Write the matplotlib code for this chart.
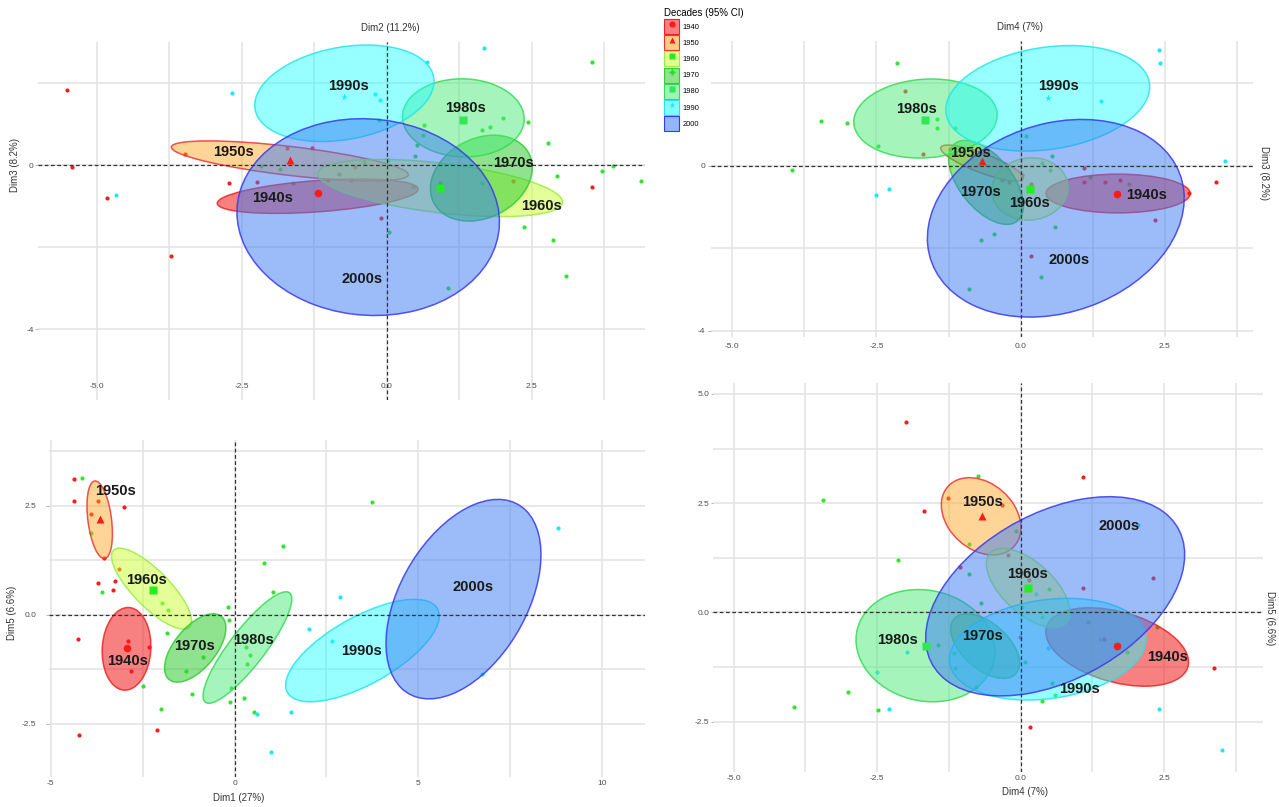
import matplotlib
matplotlib.use("Agg")
import matplotlib.pyplot as plt
from matplotlib.colors import to_rgba
from matplotlib.patches import Ellipse, Patch
from matplotlib.lines import Line2D
from matplotlib.legend_handler import HandlerTuple

plt.rcParams['font.family'] = ['Liberation Sans', 'DejaVu Sans']

W, H = 1279, 807

# decades and their colours
DECADES = ['1940', '1950', '1960', '1970', '1980', '1990', '2000']
DECADE_LABELS = ['1940s', '1950s', '1960s', '1970s', '1980s', '1990s', '2000s']
FILL = ['#F21A1A', '#FFA31A', '#CCFF33', '#33CC33', '#4DEB7A', '#1AFFFF', '#3B7BF5']
FILL_ALPHA = [0.55, 0.45, 0.5, 0.55, 0.5, 0.45, 0.5]
EDGE = ['#EE2222', '#EE3333', '#99EE44', '#33CC33', '#33DD55', '#22E6EE', '#3838EE']
MARKERS = ['o', '^', 's', 'P', 's', '*', None]
MARK_COLORS = ['#FF1A1A', '#FF1A1A', '#22EE22', '#22DD22', '#33E655', '#1AE6FF', '#3355FF']
RED, GREEN, CYAN = '#FF1A1A', '#2EE62E', '#1AE6FF'

# ---- Dim2 x Dim3 ----
p1_red = [(-5.51, 1.83), (-5.43, -0.04), (-4.82, -0.80), (-3.71, -2.22), (-3.47, 0.28),
          (-2.72, -0.43), (-2.24, -0.41), (-1.72, 0.42), (-1.29, 0.41), (-0.55, -0.04),
          (-0.83, -0.22), (-1.01, -0.37), (-0.62, -0.37), (-0.10, -1.30), (0.92, -0.43),
          (2.18, -0.38), (3.53, -0.54)]
p1_green = [(-2.16, -0.02), (-1.84, -0.10), (-1.61, -0.45), (-0.40, 0.08), (0.02, 0.12),
            (-0.14, 1.10), (0.64, 0.98), (0.63, 0.73), (0.52, 0.49), (0.49, 0.22),
            (1.64, 0.85), (1.78, 0.92), (2.01, 1.14), (2.44, 1.06), (2.78, 0.54),
            (2.93, -0.27), (3.71, -0.14), (3.89, -0.02), (4.38, -0.40), (3.53, 2.52),
            (1.64, -0.45), (0.46, -0.54), (2.37, -1.50), (2.87, -1.83), (3.09, -2.71),
            (1.06, -3.01), (0.03, -1.63)]
p1_cyan = [(-4.67, -0.72), (-2.67, 1.75), (1.67, 2.85), (0.69, 2.52), (-0.20, 1.74), (-0.12, 1.59)]
# centre x, centre y, semi-major, semi-minor, angle
p1_ellipses = [(-1.19, -0.76, 1.74, 0.38, 6), (-1.67, 0.10, 2.07, 0.35, -9.6),
               (0.92, -0.56, 2.14, 0.60, -10), (1.63, -0.32, 1.10, 0.81, 63),
               (1.32, 1.15, 1.05, 0.95, -8), (-0.73, 1.75, 1.60, 1.10, 21),
               (-0.32, -1.27, 2.42, 2.24, -70)]
p1_labels = [(-1.96, -0.80), (-2.64, 0.32), (2.67, -1.00), (2.18, 0.05),
             (1.35, 1.38), (-0.66, 1.93), (-0.43, -2.79)]
p1_centroids = [(0, -1.18, -0.69), (1, -1.67, 0.12), (2, 0.92, -0.57), (4, 1.32, 1.10), (5, -0.74, 1.65)]

# ---- Dim4 x Dim3 ----
p2_red = [(-2.00, 1.82), (-1.69, 0.30), (-1.23, 0.42), (0.18, -0.43), (0.02, -0.21),
          (-0.20, -0.39), (-0.32, -0.35), (0.18, -2.19), (1.10, -0.05), (1.10, -0.40),
          (1.47, -0.39), (1.72, -0.35), (2.92, -0.65), (3.38, -0.40), (2.33, -1.30)]
p2_green = [(-2.14, 2.50), (-3.46, 1.09), (-3.02, 1.05), (-1.45, 1.13), (-1.45, 0.91),
            (-1.14, 0.93), (-2.48, 0.48), (-3.96, -0.10), (-0.69, -1.80), (-0.89, -2.99),
            (0.10, 0.72), (0.55, 0.23), (0.37, 0.06), (0.51, -0.10), (1.20, -0.27),
            (1.88, -0.45), (-0.46, -1.64), (0.59, -1.49), (0.35, -2.69)]
p2_cyan = [(-2.29, -0.55), (-2.51, -0.71), (2.40, 2.82), (2.41, 2.50), (1.39, 1.57), (3.54, 0.12)]
p2_ellipses = [(1.69, -0.67, 1.25, 0.47, 0), (-0.67, 0.07, 0.81, 0.22, -29),
               (0.16, -0.56, 0.76, 0.66, 80), (-0.60, -0.40, 1.10, 0.50, -65),
               (-1.65, 1.15, 1.25, 0.95, 9), (0.47, 1.64, 1.81, 1.22, 16.8),
               (0.61, -1.27, 2.55, 2.05, 55)]
p2_labels = [(2.18, -0.71), (-0.87, 0.31), (0.16, -0.91), (-0.69, -0.63),
             (-1.80, 1.39), (0.66, 1.93), (0.84, -2.28)]
p2_centroids = [(0, 1.67, -0.69), (1, -0.67, 0.12), (2, 0.16, -0.57), (4, -1.66, 1.11), (5, 0.48, 1.65)]

# ---- Dim1 x Dim5 ----
p3_red = [(-4.36, 3.11), (-4.38, 2.62), (-3.73, 2.60), (-3.00, 2.47), (-3.90, 2.32),
          (-3.55, 1.30), (-3.14, 1.05), (-3.72, 0.74), (-3.25, 0.78), (-3.31, 0.57),
          (-4.27, -0.55), (-2.89, -0.59), (-2.33, -0.73), (-2.83, -1.30), (-2.12, -2.64),
          (-4.23, -2.75)]
p3_green = [(-4.14, 3.13), (-3.90, 1.87), (-3.61, 0.53), (-1.98, 0.28), (-1.81, 0.11),
            (-1.83, -0.42), (-2.50, -1.63), (-2.00, -2.16), (-1.17, -1.81), (-1.31, -1.28),
            (-0.87, -0.96), (-0.17, 0.19), (-0.15, -0.11), (-0.09, -1.68), (-0.13, -2.01),
            (0.27, -1.90), (0.54, -2.22), (0.33, -1.12), (0.43, -0.92), (0.30, -0.73),
            (0.80, 1.20), (1.32, 1.57), (1.05, 0.53), (3.73, 2.58)]
p3_cyan = [(0.99, -3.15), (0.62, -2.27), (1.54, -2.22), (2.02, -0.33), (2.65, -0.61),
           (2.87, 0.41), (8.81, 2.00), (6.73, -1.35)]
p3_ellipses = [(-2.94, -0.78, 0.95, 0.66, 85), (-3.67, 2.18, 0.90, 0.32, 99),
               (-2.26, 0.60, 1.36, 0.45, 140.7), (-1.07, -0.76, 1.02, 0.52, 42),
               (0.35, -0.75, 1.70, 0.45, 46.9), (3.48, -0.82, 2.26, 0.80, 24),
               (6.23, 0.36, 2.65, 1.63, 50.2)]
p3_labels = [(-2.92, -1.07), (-3.25, 2.84), (-2.39, 0.80), (-1.09, -0.71),
             (0.52, -0.57), (3.46, -0.84), (6.49, 0.63)]
p3_centroids = [(0, -2.94, -0.76), (1, -3.67, 2.20), (2, -2.23, 0.57)]

# ---- Dim4 x Dim5 ----
p4_red = [(-1.99, 4.35), (-1.26, 2.61), (-1.68, 2.32), (-1.05, 1.03), (1.09, 3.10),
          (-0.33, 2.46), (-0.22, 1.31), (0.15, 0.74), (1.08, 0.57), (2.31, 0.78),
          (1.45, -0.60), (3.36, -1.28), (0.16, -2.63), (-0.02, -0.56)]
p4_green = [(-3.45, 2.57), (-0.74, 3.12), (-2.13, 1.20), (-0.90, 1.56), (-0.90, 0.88),
            (-0.70, 0.21), (-1.44, -0.75), (-1.17, -0.92), (-1.14, -1.28), (-0.78, -1.70),
            (-3.00, -1.82), (-3.95, -2.16), (-2.48, -2.24), (-0.08, 1.87), (0.50, 0.53),
            (0.37, -0.11), (0.02, 0.13), (1.18, -0.21), (1.85, -0.90), (2.38, -0.34),
            (0.07, -1.13), (0.54, -1.62), (0.59, -1.89), (0.37, -2.03)]
p4_cyan = [(-1.98, -0.90), (-2.51, -1.36), (-2.29, -2.20), (0.27, 0.43), (1.38, -0.60),
           (0.48, -0.82), (2.40, -2.20), (3.50, -3.15), (2.05, 2.00)]
p4_ellipses = [(1.68, -0.79, 1.32, 0.78, -24.6), (-0.69, 2.20, 0.93, 0.63, 115),
               (0.13, 0.56, 1.05, 0.50, 125), (-0.62, -0.77, 0.84, 0.45, -56),
               (-1.66, -0.76, 1.32, 1.17, -60), (0.47, -0.84, 1.74, 1.12, 13.6),
               (0.60, 0.37, 2.70, 1.73, 45.7)]
p4_labels = [(2.55, -1.02), (-0.67, 2.53), (0.12, 0.88), (-0.66, -0.54),
             (-2.15, -0.63), (1.03, -1.76), (1.72, 1.97)]
p4_centroids = [(0, 1.67, -0.77), (1, -0.67, 2.20), (2, 0.12, 0.57), (4, -1.65, -0.76)]

# axis ticks
dim_major = [-5.0, -2.5, 0.0, 2.5]
dim_major_labels = ['-5.0', '-2.5', '0.0', '2.5']
dim_minor = [-3.75, -1.25, 1.25, 3.75]
dim3_major = [-4, 0]
dim3_major_labels = ['-4', '0']
dim3_minor = [-2, 2]
dim1_major = [-5, 0, 5, 10]
dim1_major_labels = ['-5', '0', '5', '10']
dim1_minor = [-2.5, 2.5, 7.5]
dim5_major = [-2.5, 0.0, 2.5, 5.0]
dim5_major_labels = ['-2.5', '0.0', '2.5', '5.0']
dim5_minor = [-1.25, 1.25, 3.75]


def px_axes(fig, left, top, right, bottom):
    """Add axes from a pixel box (origin top-left)."""
    return fig.add_axes([left / W, 1 - bottom / H, (right - left) / W, (bottom - top) / H])


def to_axes_frac(box, px, py):
    left, top, right, bottom = box
    return (px - left) / (right - left), (bottom - py) / (bottom - top)


def style_axes(ax, xlim, ylim, xt, xtl, xm, yt, ytl, ym):
    ax.set_xlim(*xlim)
    ax.set_ylim(*ylim)
    ax.set_xticks(xt, labels=xtl)
    ax.set_xticks(xm, minor=True)
    ax.set_yticks(yt, labels=ytl)
    ax.set_yticks(ym, minor=True)
    ax.set_axisbelow(True)
    ax.grid(which='both', color='#E4E4E4', lw=1.2)
    for s in ax.spines.values():
        s.set_visible(False)
    ax.tick_params(which='minor', length=0)
    ax.tick_params(axis='both', which='major', labelsize=6, labelcolor='#4D4D4D',
                   color='#AAAAAA', width=0.6)
    ax.tick_params(axis='x', which='major', length=0)


def draw_panel(ax, red, green, cyan, ellipses, labels, centroids):
    for pts, col in ((red, RED), (green, GREEN), (cyan, CYAN)):
        xs, ys = zip(*pts)
        ax.plot(xs, ys, 'o', ms=3, color=col, mec='none', zorder=2)
    for i, (cx, cy, a, b, ang) in enumerate(ellipses):
        ax.add_patch(Ellipse((cx, cy), 2 * a, 2 * b, angle=ang,
                             fc=to_rgba(FILL[i], FILL_ALPHA[i]),
                             ec=to_rgba(EDGE[i], 0.85), lw=1.1, zorder=2.5))
    ax.axhline(0, color='#333333', lw=0.9, ls=(0, (3, 2)), zorder=3)
    ax.axvline(0, color='#333333', lw=0.9, ls=(0, (3, 2)), zorder=3)
    for i, x, y in centroids:
        ax.plot(x, y, MARKERS[i], ms=5.5, color=MARK_COLORS[i], mec='none', zorder=3.5)
    for name, (x, y) in zip(DECADE_LABELS, labels):
        ax.text(x, y, name, ha='center', va='center', fontsize=10.5,
                fontweight='bold', color='#1A1A1A', zorder=4)


def set_titles(ax, box, xlabel, xpos, ylabel, ypos, yrot):
    ax.set_xlabel(xlabel, fontsize=7, color='#333333', va='center')
    ax.xaxis.set_label_coords(*to_axes_frac(box, *xpos))
    ax.set_ylabel(ylabel, fontsize=7, color='#333333', rotation=yrot, va='center', ha='center')
    ax.yaxis.set_label_coords(*to_axes_frac(box, *ypos))


fig = plt.figure(figsize=(W / 100, H / 100), dpi=100)

box1 = (38, 42, 645, 400)
ax1 = px_axes(fig, *box1)
style_axes(ax1, (-6.01, 4.45), (-5.73, 3.0), dim_major, dim_major_labels, dim_minor,
           dim3_major, dim3_major_labels, dim3_minor)
ax1.tick_params(axis='x', which='major', pad=-12)
ax1.tick_params(axis='y', which='major', length=2, pad=1)
draw_panel(ax1, p1_red, p1_green, p1_cyan, p1_ellipses, p1_labels, p1_centroids)
set_titles(ax1, box1, 'Dim2 (11.2%)', (390, 28), 'Dim3 (8.2%)', (15, 165), 90)

box2 = (711, 41, 1253, 337)
ax2 = px_axes(fig, *box2)
style_axes(ax2, (-5.37, 4.03), (-4.15, 3.03), dim_major, dim_major_labels, dim_minor,
           dim3_major, dim3_major_labels, dim3_minor)
ax2.tick_params(axis='x', which='major', pad=4)
ax2.tick_params(axis='y', which='major', length=2, pad=2)
draw_panel(ax2, p2_red, p2_green, p2_cyan, p2_ellipses, p2_labels, p2_centroids)
set_titles(ax2, box2, 'Dim4 (7%)', (1020, 27), 'Dim3 (8.2%)', (1264, 173), 270)

box3 = (49, 440, 645, 777)
ax3 = px_axes(fig, *box3)
style_axes(ax3, (-5.05, 11.17), (-3.72, 4.01), dim1_major, dim1_major_labels, dim1_minor,
           dim5_major[:3], dim5_major_labels[:3], dim5_minor)
ax3.tick_params(axis='x', which='major', pad=2)
ax3.tick_params(axis='y', which='major', length=2, pad=7)
draw_panel(ax3, p3_red, p3_green, p3_cyan, p3_ellipses, p3_labels, p3_centroids)
set_titles(ax3, box3, 'Dim1 (27%)', (239, 798), 'Dim5 (6.6%)', (12, 613), 90)

box4 = (713, 383, 1263, 772)
ax4 = px_axes(fig, *box4)
style_axes(ax4, (-5.36, 4.22), (-3.65, 5.25), dim_major, dim_major_labels, dim_minor,
           dim5_major, dim5_major_labels, dim5_minor)
ax4.tick_params(axis='x', which='major', pad=2.5)
ax4.tick_params(axis='y', which='major', length=1.5, pad=1)
draw_panel(ax4, p4_red, p4_green, p4_cyan, p4_ellipses, p4_labels, p4_centroids)
set_titles(ax4, box4, 'Dim4 (7%)', (1025, 792), 'Dim5 (6.6%)', (1270, 618), 270)

# shared legend: filled key box with the decade's marker on top
handles = []
for i in range(len(DECADES)):
    box = Patch(facecolor=to_rgba(FILL[i], 0.55), edgecolor=EDGE[i], linewidth=0.8)
    if MARKERS[i] is None:
        handles.append(box)
    else:
        mk = Line2D([], [], marker=MARKERS[i], ls='none', ms=4.5, color=MARK_COLORS[i], mec='none')
        handles.append((box, mk))
fig.legend(handles, DECADES, handler_map={tuple: HandlerTuple(ndivide=1, pad=0)},
           loc='upper left', bbox_to_anchor=(664 / W, 1 - 8 / H), frameon=False,
           title='Decades (95% CI)', title_fontsize=7, fontsize=5.4,
           handlelength=2.0, handleheight=2.7, labelspacing=0.15, handletextpad=0.5,
           borderpad=0, borderaxespad=0, alignment='left')

fig.savefig('out.png', dpi=100)
